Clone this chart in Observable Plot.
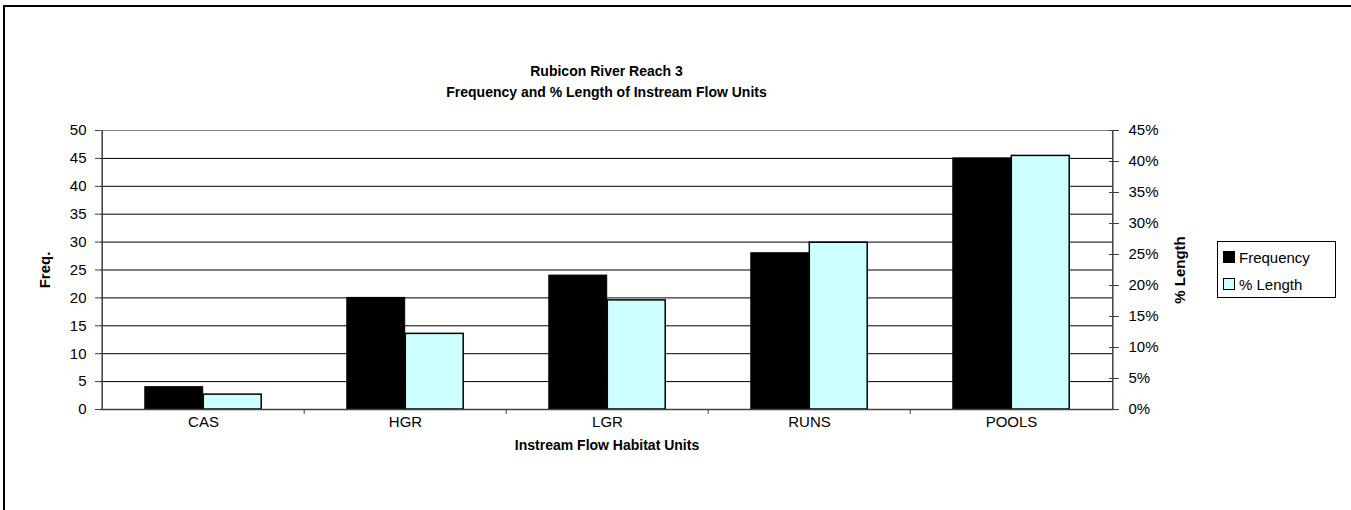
<!DOCTYPE html>
<html>
<head>
<meta charset="utf-8">
<script src="https://cdn.jsdelivr.net/npm/d3@7"></script>
<script src="https://cdn.jsdelivr.net/npm/@observablehq/plot@0.6"></script>
<style>
  html, body { margin: 0; padding: 0; background: #fff; }
  #wrap { position: relative; width: 1351px; height: 510px; overflow: hidden; font-family: "Liberation Sans", Arial, sans-serif; }
  #border { position: absolute; left: 3px; top: 5px; width: 1400px; height: 600px; border-left: 2px solid #000; border-top: 2px solid #000; }
  #title { position: absolute; left: 100px; width: 1013px; top: 61px; text-align: center; font-weight: bold; font-size: 14px; line-height: 21px; color: #000; }
  #legend { position: absolute; left: 1217px; top: 241px; width: 119px; height: 57px; border: 1px solid #000; box-sizing: border-box; background: #fff; font-size: 15px; }
  #legend .row { position: absolute; left: 5px; height: 18px; display: flex; align-items: center; }
  #legend .sw { width: 10px; height: 10px; border: 1px solid #000; margin-right: 4px; }
  svg { position: absolute; left: 0; top: 0; }
</style>
</head>
<body>
<div id="wrap">
  <div id="border"></div>
  <div id="chart"></div>
  <div id="title">Rubicon River Reach 3<br>Frequency and % Length of Instream Flow Units</div>
  <div id="legend"></div>
</div>
<script>
// ---- data ----
const categories = ["CAS", "HGR", "LGR", "RUNS", "POOLS"];
const frequency = [4, 20, 24, 28, 45];
const pctLength = [2.4, 12.2, 17.6, 26.9, 40.9]; // percent of total length
const freqTicks = [0, 5, 10, 15, 20, 25, 30, 35, 40, 45, 50];
const pctTicks = [0, 5, 10, 15, 20, 25, 30, 35, 40, 45];
const seriesNames = ["Frequency", "% Length"];
const seriesColors = ["#000000", "#CCFFFF"];

// ---- layout ----
const width = 1351, height = 510;
const marginLeft = 100, marginRight = 238, marginTop = 130, marginBottom = 101;
const bw = (width - marginLeft - marginRight) / categories.length;
const barW = 58.5;
const gap = (bw - 2 * barW) / 2;
const freqMax = 50, pctMax = 45;
const toFreq = p => p * freqMax / pctMax;

const freqData = categories.map((c, i) => ({cat: c, value: frequency[i]}));
const pctData = categories.map((c, i) => ({cat: c, value: pctLength[i]}));

const chart = Plot.plot({
  width, height, marginLeft, marginRight, marginTop, marginBottom,
  style: {fontFamily: "'Liberation Sans', Arial, sans-serif", fontSize: "15px", color: "#000", background: "transparent"},
  x: {type: "band", domain: categories, padding: 0, label: null},
  y: {domain: [0, freqMax], label: null},
  marks: [
    // gridlines
    Plot.ruleY(freqTicks.filter(t => t > 0 && t < freqMax), {stroke: "#000", strokeWidth: 1}),
    Plot.ruleY([freqMax], {stroke: "#808080", strokeWidth: 1}),
    // bars
    Plot.barY(freqData, {x: "cat", y: "value", fill: seriesColors[0], stroke: "#000", strokeWidth: 1, insetLeft: gap, insetRight: gap + barW}),
    Plot.barY(pctData, {x: "cat", y: d => toFreq(d.value), fill: seriesColors[1], stroke: "#000", strokeWidth: 1.5, insetLeft: gap + barW, insetRight: gap}),
    // axis lines
    Plot.ruleX([categories[0]], {dx: -bw / 2, stroke: "#404040", strokeWidth: 1.5}),
    Plot.ruleX([categories[categories.length - 1]], {dx: bw / 2, stroke: "#404040", strokeWidth: 1.5}),
    Plot.ruleY([0], {stroke: "#404040", strokeWidth: 1.5}),
    // category boundary ticks
    Plot.ruleX(categories.slice(1), {dx: -bw / 2, y1: 0, y2: 0, insetBottom: -5, stroke: "#404040", strokeWidth: 1}),
    // left axis
    Plot.axisY({anchor: "left", ticks: freqTicks, tickSize: 5, tickPadding: 9, stroke: "#404040", label: null}),
    // right axis (percent)
    Plot.axisY({anchor: "right", ticks: pctTicks.map(toFreq), tickFormat: d => Math.round(d * pctMax / freqMax) + "%",
      tickSize: 10, dx: -5, tickPadding: 10, stroke: "#404040", label: null}),
    // x axis labels
    Plot.axisX({anchor: "bottom", tickSize: 0, tickPadding: 7, label: null}),
    // axis titles
    Plot.text(["Freq."], {frameAnchor: "left", textAnchor: "middle", dx: -55, rotate: -90, fontWeight: "bold", fontSize: 15}),
    Plot.text(["% Length"], {frameAnchor: "right", textAnchor: "middle", dx: 67, rotate: -90, fontWeight: "bold", fontSize: 15}),
    Plot.text(["Instream Flow Habitat Units"], {frameAnchor: "bottom", textAnchor: "middle", dy: 40, fontWeight: "bold", fontSize: 14})
  ]
});
document.getElementById("chart").appendChild(chart);

// legend
const legend = document.getElementById("legend");
seriesNames.forEach((name, i) => {
  const row = document.createElement("div");
  row.className = "row";
  row.style.top = (6 + i * 27) + "px";
  const sw = document.createElement("span");
  sw.className = "sw";
  sw.style.background = seriesColors[i];
  const t = document.createElement("span");
  t.textContent = name;
  row.appendChild(sw); row.appendChild(t);
  legend.appendChild(row);
});
</script>
</body>
</html>
